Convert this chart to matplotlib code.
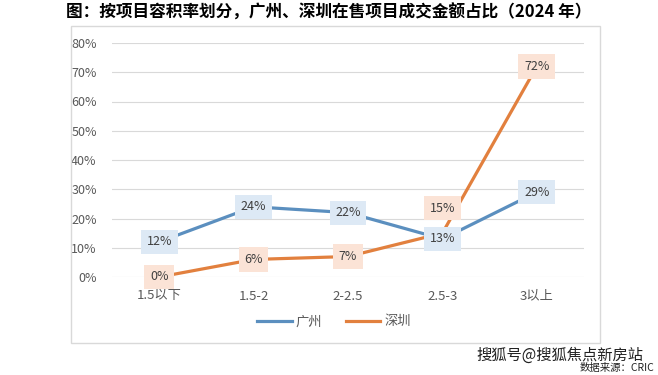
import numpy as np
import matplotlib.pyplot as plt
from matplotlib.patches import Rectangle

plt.rcParams['font.family'] = ['Noto Sans CJK SC', 'DejaVu Sans']

categories = ['1.5以下', '1.5-2', '2-2.5', '2.5-3', '3以上']
guangzhou = [12, 24, 22, 13, 29]
shenzhen = [0, 6, 7, 15, 72]
yticks = [0, 10, 20, 30, 40, 50, 60, 70, 80]

blue = '#5B8FBF'
orange = '#E2803E'

fig = plt.figure(figsize=(6.58, 3.75), dpi=100)

# chart frame
fig.patches.append(Rectangle((71 / 658, 1 - 343 / 375), 529 / 658, 317 / 375,
                             transform=fig.transFigure, fill=False,
                             edgecolor='#D9D9D9', linewidth=1))

ax = fig.add_axes([112 / 658, 1 - 277 / 375, 472 / 658, 234 / 375])
x = np.arange(len(categories))
ax.plot(x, np.array(guangzhou) / 100, color=blue, lw=2.3, label='广州', zorder=3)
ax.plot(x, np.array(shenzhen) / 100, color=orange, lw=2.3, label='深圳', zorder=3)

ax.set_xlim(-0.5, len(categories) - 0.5)
ax.set_ylim(0, 0.8)
ax.set_yticks(np.array(yticks) / 100)
ax.set_yticklabels([f'{v}%' for v in yticks], color='#595959', fontsize=9)
ax.set_xticks(x)
ax.set_xticklabels(categories, color='#595959', fontsize=9.5)
ax.tick_params(length=0, pad=9)
ax.tick_params(axis='y', pad=11)
ax.grid(axis='y', color='#D9D9D9', lw=0.8)
ax.set_axisbelow(True)
for s in ax.spines.values():
    s.set_visible(False)

label_style = dict(ha='center', va='center', fontsize=9, color='#404040', zorder=5)
for i, v in enumerate(guangzhou):
    ax.text(i, v / 100, f'{v}%', bbox=dict(boxstyle='square,pad=0.45', fc='#DDE9F5', ec='none'),
            **label_style)
for i, v in enumerate(shenzhen):
    dy = 0.085 if i == 3 else 0
    ax.text(i, v / 100 + dy, f'{v}%', bbox=dict(boxstyle='square,pad=0.45', fc='#FBE3D6', ec='none'),
            **label_style)

fig.legend(loc='center', bbox_to_anchor=(334 / 658, 1 - 322 / 375), ncol=2, frameon=False,
           fontsize=9.5, labelcolor='#595959', handlelength=2.6, handletextpad=0.3,
           columnspacing=1.8)

fig.text(0.5, 1 - 13 / 375, '图：按项目容积率划分，广州、深圳在售项目成交金额占比（2024 年）',
         ha='center', va='center', fontsize=12, fontweight='bold', color='black')
fig.text(643 / 658, 1 - 355 / 375, '搜狐号@搜狐焦点新房站', ha='right', va='center',
         fontsize=11, color='#222222')
fig.text(654 / 658, 1 - 368 / 375, '数据来源：CRIC', ha='right', va='center',
         fontsize=7.5, color='#222222')

fig.savefig('out.png', dpi=100)
